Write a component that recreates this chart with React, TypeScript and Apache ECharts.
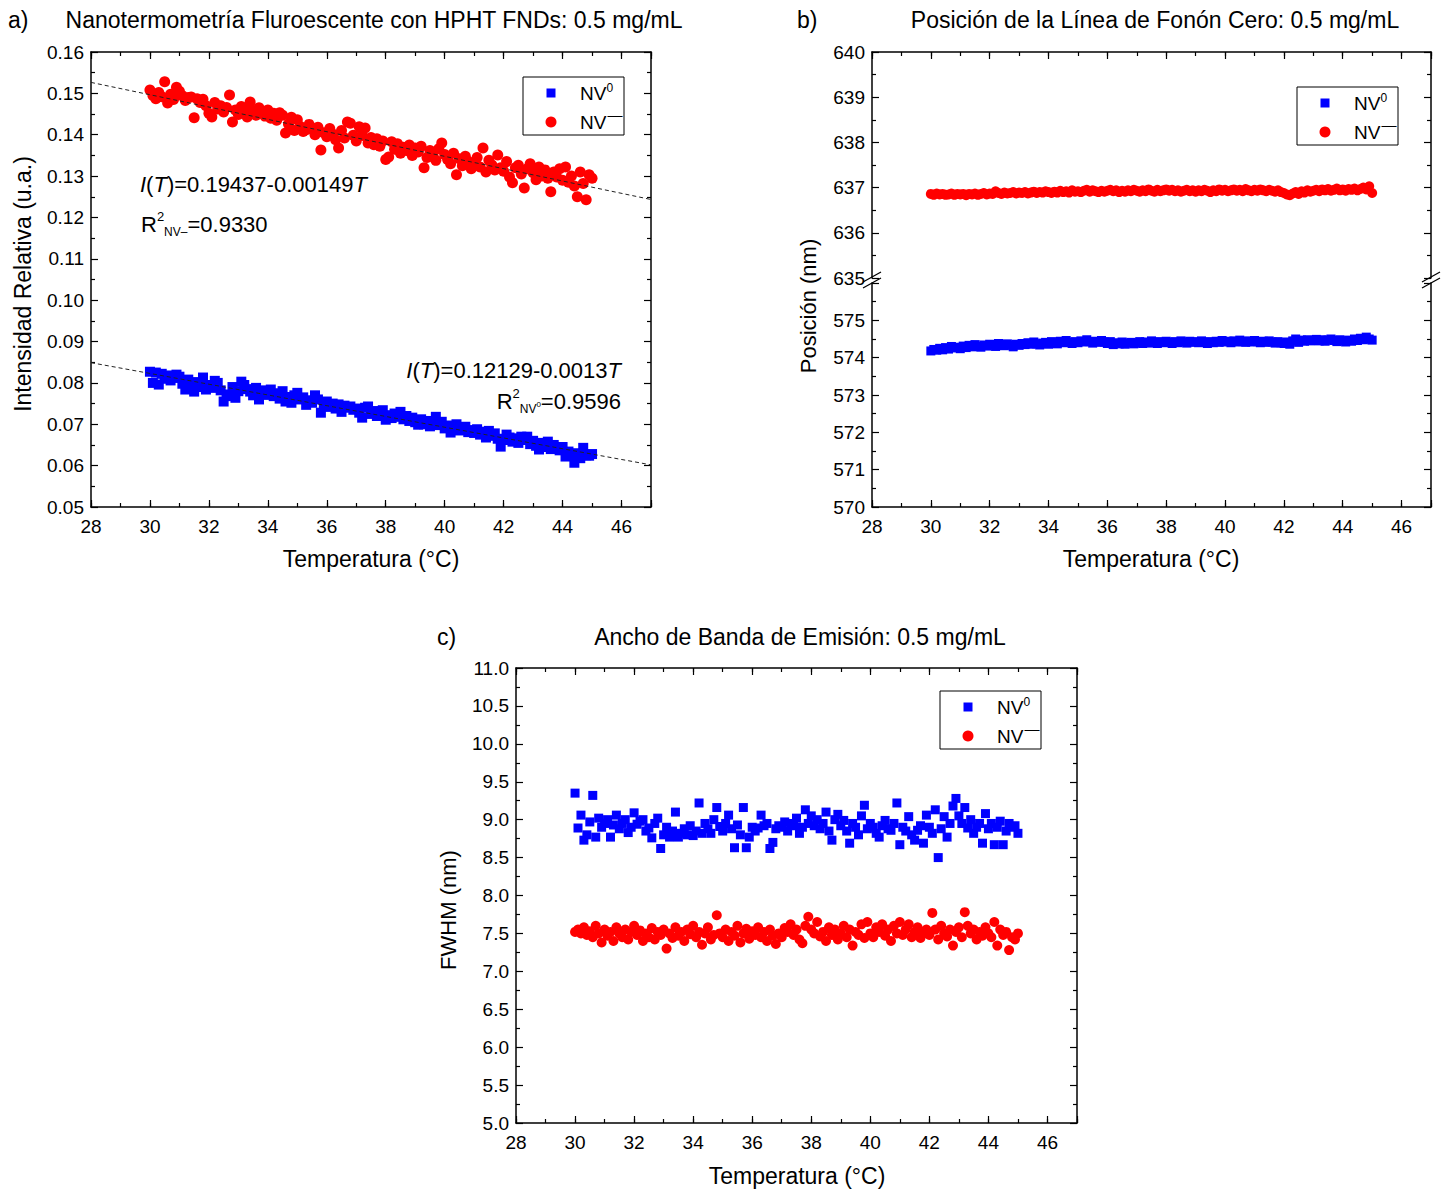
import React, { useEffect, useRef } from 'react';
import * as echarts from 'echarts';

// ---------------- DATA ----------------
const temps = [
  30.0, 30.1, 30.2, 30.3, 30.4, 30.5, 30.6, 30.7, 30.8, 30.9,
  31.0, 31.1, 31.2, 31.3, 31.4, 31.5, 31.6, 31.7, 31.8, 31.9,
  32.0, 32.1, 32.2, 32.3, 32.4, 32.5, 32.6, 32.7, 32.8, 32.9,
  33.0, 33.1, 33.2, 33.3, 33.4, 33.5, 33.6, 33.7, 33.8, 33.9,
  34.0, 34.1, 34.2, 34.3, 34.4, 34.5, 34.6, 34.7, 34.8, 34.9,
  35.0, 35.1, 35.2, 35.3, 35.4, 35.5, 35.6, 35.7, 35.8, 35.9,
  36.0, 36.1, 36.2, 36.3, 36.4, 36.5, 36.6, 36.7, 36.8, 36.9,
  37.0, 37.1, 37.2, 37.3, 37.4, 37.5, 37.6, 37.7, 37.8, 37.9,
  38.0, 38.1, 38.2, 38.3, 38.4, 38.5, 38.6, 38.7, 38.8, 38.9,
  39.0, 39.1, 39.2, 39.3, 39.4, 39.5, 39.6, 39.7, 39.8, 39.9,
  40.0, 40.1, 40.2, 40.3, 40.4, 40.5, 40.6, 40.7, 40.8, 40.9,
  41.0, 41.1, 41.2, 41.3, 41.4, 41.5, 41.6, 41.7, 41.8, 41.9,
  42.0, 42.1, 42.2, 42.3, 42.4, 42.5, 42.6, 42.7, 42.8, 42.9,
  43.0, 43.1, 43.2, 43.3, 43.4, 43.5, 43.6, 43.7, 43.8, 43.9,
  44.0, 44.1, 44.2, 44.3, 44.4, 44.5, 44.6, 44.7, 44.8, 44.9,
  45.0,
];

// a) Relative intensity
const intensityNVm = [
  0.1508, 0.1495, 0.1487, 0.1502, 0.1492, 0.1528, 0.1477, 0.1498, 0.1485, 0.1515,
  0.1505, 0.1494, 0.1483, 0.1490, 0.1491, 0.1441, 0.1487, 0.1478, 0.1486, 0.1470,
  0.1452, 0.1443, 0.1478, 0.1462, 0.1470, 0.1455, 0.1466, 0.1496, 0.1431, 0.1460,
  0.1449, 0.1468, 0.1462, 0.1443, 0.1479, 0.1458, 0.1447, 0.1465, 0.1453, 0.1445,
  0.1460, 0.1440, 0.1452, 0.1435, 0.1453, 0.1447, 0.1404, 0.1426, 0.1442, 0.1410,
  0.1436, 0.1420, 0.1408, 0.1412, 0.1425, 0.1416, 0.1400, 0.1418, 0.1363, 0.1405,
  0.1395, 0.1415, 0.1402, 0.1388, 0.1368, 0.1410, 0.1392, 0.1431, 0.1428, 0.1399,
  0.1385, 0.1419, 0.1398, 0.1416, 0.1380, 0.1393, 0.1376, 0.1390, 0.1372, 0.1385,
  0.1340, 0.1346, 0.1383, 0.1365, 0.1378, 0.1355, 0.1370, 0.1362, 0.1375, 0.1350,
  0.1368, 0.1358, 0.1372, 0.1320, 0.1345, 0.1362, 0.1350, 0.1338, 0.1366, 0.1380,
  0.1352, 0.1340, 0.1330, 0.1355, 0.1303, 0.1342, 0.1325, 0.1348, 0.1335, 0.1318,
  0.1330, 0.1345, 0.1322, 0.1368, 0.1310, 0.1338, 0.1327, 0.1315, 0.1351, 0.1320,
  0.1312, 0.1335, 0.1298, 0.1284, 0.1320, 0.1326, 0.1305, 0.1271, 0.1318, 0.1330,
  0.1308, 0.1291, 0.1322, 0.1300, 0.1315, 0.1295, 0.1262, 0.1310, 0.1298, 0.1318,
  0.1290, 0.1322, 0.1285, 0.1300, 0.1276, 0.1250, 0.1310, 0.1282, 0.1243, 0.1303,
  0.1295,
];
const intensityNV0 = [
  0.0827, 0.0800, 0.0825, 0.0796, 0.0822, 0.0810, 0.0818, 0.0806, 0.0812, 0.0820,
  0.0815, 0.0798, 0.0784, 0.0808, 0.0795, 0.0779, 0.0802, 0.0790, 0.0813, 0.0784,
  0.0795, 0.0788, 0.0805, 0.0800, 0.0782, 0.0755, 0.0772, 0.0768, 0.0790, 0.0764,
  0.0780, 0.0803, 0.0795, 0.0785, 0.0779, 0.0770, 0.0788, 0.0760, 0.0775, 0.0782,
  0.0771, 0.0784, 0.0768, 0.0775, 0.0762, 0.0780, 0.0755, 0.0766, 0.0752, 0.0770,
  0.0776, 0.0760, 0.0765, 0.0747, 0.0758, 0.0752, 0.0770, 0.0760, 0.0728, 0.0748,
  0.0755, 0.0742, 0.0750, 0.0738, 0.0748, 0.0730, 0.0745, 0.0740, 0.0743, 0.0735,
  0.0738, 0.0728, 0.0716, 0.0740, 0.0743, 0.0725, 0.0732, 0.0720, 0.0723, 0.0734,
  0.0711, 0.0722, 0.0715, 0.0726, 0.0718, 0.0730, 0.0712, 0.0720, 0.0708, 0.0716,
  0.0705, 0.0699, 0.0712, 0.0700, 0.0708, 0.0695, 0.0703, 0.0718, 0.0698, 0.0706,
  0.0690, 0.0697, 0.0680, 0.0688, 0.0700, 0.0685, 0.0692, 0.0694, 0.0681, 0.0686,
  0.0679, 0.0688, 0.0675, 0.0682, 0.0668, 0.0684, 0.0672, 0.0678, 0.0665, 0.0646,
  0.0662, 0.0675, 0.0668, 0.0658, 0.0666, 0.0655, 0.0670, 0.0662, 0.0670, 0.0652,
  0.0660, 0.0648, 0.0639, 0.0655, 0.0645, 0.0658, 0.0640, 0.0650, 0.0643, 0.0637,
  0.0645, 0.0622, 0.0634, 0.0628, 0.0607, 0.0630, 0.0618, 0.0643, 0.0625, 0.0624,
  0.0628,
];
// linear fits printed on the chart: I(T) = a + b*T
const fitNVmA = 0.19437;
const fitNVmB = -0.00149;
const fitNV0A = 0.12129;
const fitNV0B = -0.0013;
const fitT = [28, 47];

// b) Zero-phonon line position (nm)
const zplNVm = [
  636.86, 636.84, 636.87, 636.85, 636.86, 636.84, 636.85, 636.87, 636.84, 636.86,
  636.85, 636.86, 636.83, 636.86, 636.85, 636.87, 636.84, 636.86, 636.88, 636.85,
  636.87, 636.86, 636.92, 636.88, 636.86, 636.89, 636.87, 636.88, 636.90, 636.87,
  636.89, 636.88, 636.90, 636.87, 636.89, 636.91, 636.88, 636.90, 636.89, 636.92,
  636.90, 636.88, 636.91, 636.89, 636.93, 636.90, 636.92, 636.89, 636.94, 636.91,
  636.92, 636.90, 636.93, 636.95, 636.91, 636.94, 636.92, 636.90, 636.93, 636.91,
  636.93, 636.95, 636.92, 636.94, 636.90, 636.93, 636.91, 636.94, 636.92, 636.95,
  636.93, 636.91, 636.94, 636.92, 636.96, 636.93, 636.91, 636.95, 636.92, 636.94,
  636.96, 636.93, 636.95, 636.92, 636.94, 636.91, 636.93, 636.95, 636.92, 636.94,
  636.91, 636.94, 636.92, 636.95, 636.93, 636.90, 636.94, 636.92, 636.96, 636.93,
  636.95, 636.92, 636.94, 636.96, 636.93, 636.95, 636.92, 636.97, 636.94, 636.92,
  636.95, 636.93, 636.96, 636.94, 636.92, 636.95, 636.93, 636.91, 636.94, 636.90,
  636.88, 636.85, 636.83, 636.87, 636.90, 636.86, 636.92, 636.89, 636.94, 636.91,
  636.93, 636.95, 636.92, 636.96, 636.94, 636.97, 636.93, 636.95, 636.98, 636.94,
  636.96, 636.93, 636.97, 636.95, 636.98, 636.94, 636.97, 637.00, 636.96, 637.03,
  636.88,
];
const zplNV0 = [
  574.18, 574.22, 574.20, 574.25, 574.21, 574.27, 574.23, 574.30, 574.26, 574.28,
  574.24, 574.31, 574.27, 574.33, 574.29, 574.35, 574.30, 574.28, 574.34, 574.31,
  574.36, 574.33, 574.30, 574.38, 574.35, 574.32, 574.37, 574.34, 574.29, 574.36,
  574.33, 574.38, 574.35, 574.40, 574.36, 574.42, 574.37, 574.34, 574.39, 574.41,
  574.36, 574.43, 574.39, 574.37, 574.44, 574.40, 574.46, 574.41, 574.38, 574.43,
  574.40, 574.45, 574.42, 574.48, 574.43, 574.39, 574.44, 574.41, 574.46, 574.42,
  574.38, 574.43, 574.35, 574.40, 574.37, 574.42, 574.36, 574.39, 574.41, 574.37,
  574.40, 574.43, 574.38, 574.42, 574.39, 574.45, 574.41, 574.38, 574.43, 574.40,
  574.44, 574.41, 574.38, 574.43, 574.40, 574.45, 574.42, 574.39, 574.44, 574.41,
  574.43, 574.40, 574.45, 574.41, 574.38, 574.43, 574.40, 574.44, 574.41, 574.46,
  574.42, 574.44, 574.40, 574.45, 574.42, 574.47, 574.43, 574.41, 574.45, 574.42,
  574.46, 574.43, 574.40, 574.44, 574.41, 574.45, 574.42, 574.39, 574.43, 574.40,
  574.38, 574.42, 574.36, 574.45, 574.50, 574.41, 574.47, 574.44, 574.48, 574.45,
  574.46, 574.49, 574.45, 574.48, 574.44, 574.47, 574.50, 574.46, 574.43, 574.48,
  574.45, 574.42, 574.47, 574.44, 574.50, 574.46, 574.52, 574.48, 574.55, 574.50,
  574.47,
];

// c) Emission bandwidth FWHM (nm)
const fwhmNV0 = [
  9.35, 8.89, 9.06, 8.73, 8.80, 8.97, 9.32, 8.77, 9.02, 8.90,
  8.95, 9.00, 8.77, 8.93, 9.06, 8.88, 8.95, 9.00, 8.83, 8.90,
  9.09, 8.94, 8.98, 9.00, 8.85, 8.89, 8.76, 8.95, 9.02, 8.62,
  8.80, 8.90, 8.77, 8.85, 9.10, 8.77, 8.82, 8.88, 8.80, 8.92,
  8.79, 8.85, 9.22, 8.82, 8.95, 8.88, 8.82, 9.00, 9.16, 8.91,
  8.85, 8.95, 9.06, 8.88, 8.63, 8.93, 8.80, 9.16, 8.63, 8.77,
  8.90, 8.85, 8.89, 9.06, 8.92, 8.95, 8.62, 8.70, 8.88, 8.92,
  8.90, 8.97, 8.85, 8.95, 8.92, 9.02, 8.82, 8.90, 9.13, 8.95,
  9.05, 8.92, 9.00, 8.88, 8.95, 9.10, 8.85, 8.73, 9.00, 9.07,
  8.92, 8.99, 8.85, 8.69, 8.95, 8.90, 8.80, 9.05, 9.19, 8.88,
  8.95, 8.90, 8.82, 8.77, 8.92, 8.99, 8.88, 8.86, 8.95, 9.22,
  8.67, 8.90, 8.85, 9.04, 8.80, 8.73, 8.86, 8.92, 8.69, 9.06,
  8.90, 8.82, 9.13, 8.50, 8.88, 9.04, 8.77, 8.95, 9.18, 9.28,
  9.05, 8.95, 9.16, 8.89, 9.00, 8.82, 8.90, 8.95, 8.69, 9.08,
  8.88, 8.95, 8.67, 8.90, 8.98, 8.67, 8.85, 8.95, 8.90, 8.92,
  8.82,
];
const fwhmNVm = [
  7.52, 7.55, 7.50, 7.58, 7.48, 7.53, 7.45, 7.60, 7.50, 7.38,
  7.55, 7.47, 7.52, 7.40, 7.58, 7.50, 7.45, 7.55, 7.42, 7.52,
  7.60, 7.48, 7.54, 7.40, 7.50, 7.45, 7.57, 7.42, 7.52, 7.48,
  7.55, 7.30, 7.50, 7.44, 7.58, 7.47, 7.52, 7.40, 7.55, 7.49,
  7.60, 7.45, 7.52, 7.35, 7.50, 7.58, 7.42, 7.48, 7.74, 7.50,
  7.45, 7.55, 7.40, 7.52, 7.47, 7.60, 7.38, 7.50, 7.56, 7.43,
  7.53, 7.48, 7.58, 7.45, 7.52, 7.40, 7.55, 7.47, 7.36, 7.50,
  7.45, 7.57, 7.52, 7.62, 7.48, 7.55, 7.42, 7.37, 7.60, 7.72,
  7.55, 7.50, 7.65, 7.46, 7.52, 7.40, 7.58, 7.48, 7.55, 7.42,
  7.50, 7.60, 7.45, 7.55, 7.34, 7.52, 7.48, 7.62, 7.44, 7.65,
  7.50, 7.45, 7.58, 7.52, 7.62, 7.47, 7.55, 7.40, 7.60, 7.50,
  7.65, 7.48, 7.55, 7.62, 7.45, 7.52, 7.58, 7.44, 7.50, 7.55,
  7.48, 7.77, 7.55, 7.42, 7.60, 7.50, 7.46, 7.55, 7.34, 7.52,
  7.58, 7.45, 7.78, 7.60, 7.50, 7.55, 7.42, 7.52, 7.47, 7.58,
  7.50, 7.45, 7.65, 7.34, 7.55, 7.48, 7.52, 7.28, 7.45, 7.42,
  7.50,
];

// tick / range definitions
const xMin = 28, xMax = 47;
const yA = { min: 0.05, max: 0.16, interval: 0.01 };
const yBTop = { min: 635, max: 640, interval: 1 };
const yBBot = { min: 570, max: 576, interval: 1 };
const yC = { min: 5, max: 11, interval: 0.5 };

// ---------------- STYLE ----------------
const FONT = "'Liberation Sans', Arial, Helvetica, sans-serif";
const BLUE = '#0000FF';
const RED = '#FF0000';
const TICK_FS = 19;

const pairs = (xs: number[], ys: number[]) => xs.map((x, i) => [x, ys[i]]);

const axisLineStyle = { color: '#000', width: 1.5 };
const tickLineStyle = { color: '#000', width: 1.2 };

function xMajor(gridIndex: number, position: string, labels: boolean) {
  return {
    type: 'value', gridIndex, position, min: xMin, max: xMax, interval: 2,
    axisLine: { show: true, onZero: false, lineStyle: axisLineStyle },
    axisTick: { show: true, inside: true, length: 7, lineStyle: tickLineStyle },
    minorTick: { show: false },
    splitLine: { show: false },
    axisLabel: {
      show: labels, color: '#000', fontSize: TICK_FS, fontFamily: FONT, margin: 10,
      formatter: (v: number) => (v === xMax ? '' : String(v)),
    },
  };
}
function xMinor(gridIndex: number, position: string) {
  return {
    type: 'value', gridIndex, position, min: xMin, max: xMax, interval: 1,
    axisLine: { show: false },
    axisTick: { show: true, inside: true, length: 4, lineStyle: tickLineStyle },
    splitLine: { show: false },
    axisLabel: { show: false },
  };
}
function yAx(gridIndex: number, position: string, r: any, labels: boolean, fmt: (v: number) => string) {
  return {
    type: 'value', gridIndex, position, min: r.min, max: r.max, interval: r.interval,
    axisLine: { show: true, onZero: false, lineStyle: axisLineStyle },
    axisTick: { show: true, inside: true, length: 7, lineStyle: tickLineStyle },
    minorTick: { show: true, splitNumber: 2, length: 4, lineStyle: tickLineStyle },
    splitLine: { show: false },
    axisLabel: { show: labels, color: '#000', fontSize: TICK_FS, fontFamily: FONT, margin: 7, formatter: fmt },
  };
}

const txt = (x: number, y: number, text: string, size: number, align = 'left', rot = 0): any => ({
  type: 'text', x, y, rotation: rot, z: 20,
  style: {
    text, fill: '#000', fontSize: size, fontFamily: FONT,
    align, verticalAlign: 'middle', textAlign: align, textVerticalAlign: 'middle',
  },
});

const legendRich = {
  m: { fontSize: 19, fontFamily: FONT, fill: '#000', lineHeight: 30, verticalAlign: 'middle' },
  s: { fontSize: 12, fontFamily: FONT, fill: '#000', lineHeight: 12, verticalAlign: 'top', padding: [4, 0, 0, 0] },
  d: { fontSize: 15, fontFamily: FONT, fill: '#000', lineHeight: 15, verticalAlign: 'top', padding: [0, 0, 0, 1] },
};
function legendAt(bx: number, by: number, sq: number, cr: number): any[] {
  return [
    { type: 'rect', z: 20, shape: { x: bx, y: by, width: 101, height: 58 }, style: { fill: '#fff', stroke: '#000', lineWidth: 1 } },
    { type: 'rect', z: 21, shape: { x: bx + 28 - sq / 2, y: by + 16 - sq / 2, width: sq, height: sq }, style: { fill: BLUE } },
    { type: 'circle', z: 21, shape: { cx: bx + 28, cy: by + 45, r: cr }, style: { fill: RED } },
    { type: 'text', z: 21, x: bx + 57, y: by + 16, style: { text: '{m|NV}{s|0}', rich: legendRich, align: 'left', verticalAlign: 'middle', textAlign: 'left', textVerticalAlign: 'middle' } },
    { type: 'text', z: 21, x: bx + 57, y: by + 45, style: { text: '{m|NV}{d|—}', rich: legendRich, align: 'left', verticalAlign: 'middle', textAlign: 'left', textVerticalAlign: 'middle' } },
  ];
}

const annRich = {
  n: { fontSize: 22, fontFamily: FONT, fill: '#000', lineHeight: 28, verticalAlign: 'middle' },
  i: { fontSize: 22, fontFamily: FONT, fontStyle: 'italic', fill: '#000', lineHeight: 28, verticalAlign: 'middle' },
  sup: { fontSize: 13, fontFamily: FONT, fill: '#000', lineHeight: 13, verticalAlign: 'top' },
  sub: { fontSize: 12, fontFamily: FONT, fill: '#000', lineHeight: 12, verticalAlign: 'bottom' },
  subsup: { fontSize: 8, fontFamily: FONT, fill: '#000', lineHeight: 8, verticalAlign: 'bottom', padding: [0, 0, 7, 0] },
};
const ann = (x: number, y: number, text: string, align: string): any => ({
  type: 'text', x, y, z: 20,
  style: { text, rich: annRich, align, verticalAlign: 'middle', textAlign: align, textVerticalAlign: 'middle' },
});

const brk = (x: number): any[] => [
  { type: 'line', z: 20, shape: { x1: x - 9, y1: 282, x2: x + 9, y2: 272 }, style: { stroke: '#000', lineWidth: 1.3 } },
  { type: 'line', z: 20, shape: { x1: x - 9, y1: 288, x2: x + 9, y2: 278 }, style: { stroke: '#000', lineWidth: 1.3 } },
];

export default function App() {
  const ref = useRef<HTMLDivElement>(null);
  useEffect(() => {
    if (!ref.current) return;
    const chart = echarts.init(ref.current, undefined, { renderer: 'svg' });

    const fitNVm = fitT.map((t) => [t, fitNVmA + fitNVmB * t]);
    const fitNV0 = fitT.map((t) => [t, fitNV0A + fitNV0B * t]);

    const option: any = {
      animation: false,
      backgroundColor: '#fff',
      textStyle: { fontFamily: FONT },
      grid: [
        { left: 91, top: 52, width: 560, height: 455, containLabel: false, outerBoundsMode: 'none' },
        { left: 872, top: 52, width: 559, height: 226, containLabel: false, outerBoundsMode: 'none' },
        { left: 872, top: 283, width: 559, height: 224, containLabel: false, outerBoundsMode: 'none' },
        { left: 516, top: 668, width: 561, height: 455, containLabel: false, outerBoundsMode: 'none' },
      ],
      xAxis: [
        xMajor(0, 'bottom', true), xMinor(0, 'bottom'), xMajor(0, 'top', false), xMinor(0, 'top'),
        xMajor(1, 'top', false), xMinor(1, 'top'),
        xMajor(2, 'bottom', true), xMinor(2, 'bottom'),
        xMajor(3, 'bottom', true), xMinor(3, 'bottom'), xMajor(3, 'top', false), xMinor(3, 'top'),
      ],
      yAxis: [
        yAx(0, 'left', yA, true, (v) => v.toFixed(2)), yAx(0, 'right', yA, false, (v) => ''),
        yAx(1, 'left', yBTop, true, (v) => String(Math.round(v))), yAx(1, 'right', yBTop, false, (v) => ''),
        yAx(2, 'left', yBBot, true, (v) => (Math.round(v) === yBBot.max ? '' : String(Math.round(v)))), yAx(2, 'right', yBBot, false, (v) => ''),
        yAx(3, 'left', yC, true, (v) => v.toFixed(1)), yAx(3, 'right', yC, false, (v) => ''),
      ],
      series: [
        { name: 'NV0', type: 'scatter', xAxisIndex: 0, yAxisIndex: 0, symbol: 'rect', symbolSize: 10, itemStyle: { color: BLUE, opacity: 1 }, data: pairs(temps, intensityNV0), z: 2 },
        { name: 'NV−', type: 'scatter', xAxisIndex: 0, yAxisIndex: 0, symbol: 'circle', symbolSize: 11, itemStyle: { color: RED, opacity: 1 }, data: pairs(temps, intensityNVm), z: 2 },
        { name: 'fit NV−', type: 'line', xAxisIndex: 0, yAxisIndex: 0, data: fitNVm, symbol: 'none', showSymbol: false, silent: true, lineStyle: { color: '#222', width: 1, type: [4, 3] }, z: 5 },
        { name: 'fit NV0', type: 'line', xAxisIndex: 0, yAxisIndex: 0, data: fitNV0, symbol: 'none', showSymbol: false, silent: true, lineStyle: { color: '#222', width: 1, type: [4, 3] }, z: 5 },
        { name: 'NV−', type: 'scatter', xAxisIndex: 4, yAxisIndex: 2, symbol: 'circle', symbolSize: 10, itemStyle: { color: RED, opacity: 1 }, data: pairs(temps, zplNVm) },
        { name: 'NV0', type: 'scatter', xAxisIndex: 6, yAxisIndex: 4, symbol: 'rect', symbolSize: 9, itemStyle: { color: BLUE, opacity: 1 }, data: pairs(temps, zplNV0) },
        { name: 'NV0', type: 'scatter', xAxisIndex: 8, yAxisIndex: 6, symbol: 'rect', symbolSize: 9, itemStyle: { color: BLUE, opacity: 1 }, data: pairs(temps, fwhmNV0) },
        { name: 'NV−', type: 'scatter', xAxisIndex: 8, yAxisIndex: 6, symbol: 'circle', symbolSize: 10, itemStyle: { color: RED, opacity: 1 }, data: pairs(temps, fwhmNVm) },
      ],
      graphic: {
        elements: [
          // panel labels and titles
          txt(8, 20, 'a)', 23),
          txt(374, 20, 'Nanotermometría Fluroescente con HPHT FNDs: 0.5 mg/mL', 23, 'center'),
          txt(797, 20, 'b)', 23),
          txt(1155, 20, 'Posición de la Línea de Fonón Cero: 0.5 mg/mL', 23, 'center'),
          txt(437, 637, 'c)', 23),
          txt(800, 637, 'Ancho de Banda de Emisión: 0.5 mg/mL', 23, 'center'),
          // axis titles
          txt(371, 559, 'Temperatura (°C)', 23, 'center'),
          txt(1151, 559, 'Temperatura (°C)', 23, 'center'),
          txt(797, 1176, 'Temperatura (°C)', 23, 'center'),
          txt(23, 284, 'Intensidad Relativa (u.a.)', 23, 'center', Math.PI / 2),
          txt(808, 306, 'Posición (nm)', 22, 'center', Math.PI / 2),
          txt(448, 910, 'FWHM (nm)', 22, 'center', Math.PI / 2),
          // annotations
          ann(140, 184, '{i|I}{n|(}{i|T}{n|)=0.19437-0.00149}{i|T}', 'left'),
          ann(141, 224, '{n|R}{sup|2}{sub|NV–}{n|=0.9330}', 'left'),
          ann(621, 370, '{i|I}{n|(}{i|T}{n|)=0.12129-0.0013}{i|T}', 'right'),
          ann(621, 401, '{n|R}{sup|2}{sub|NV}{subsup|0}{n|=0.9596}', 'right'),
          // legends
          ...legendAt(523, 77, 9, 5.5),
          ...legendAt(1297, 87, 9, 5.5),
          ...legendAt(940, 691, 9, 5.5),
          // axis break marks
          ...brk(872),
          ...brk(1431),
        ],
      },
    };
    chart.setOption(option);
    return () => chart.dispose();
  }, []);
  return <div ref={ref} style={{ position: 'absolute', left: 0, top: 0, width: 1443, height: 1191, background: '#fff' }} />;
}
